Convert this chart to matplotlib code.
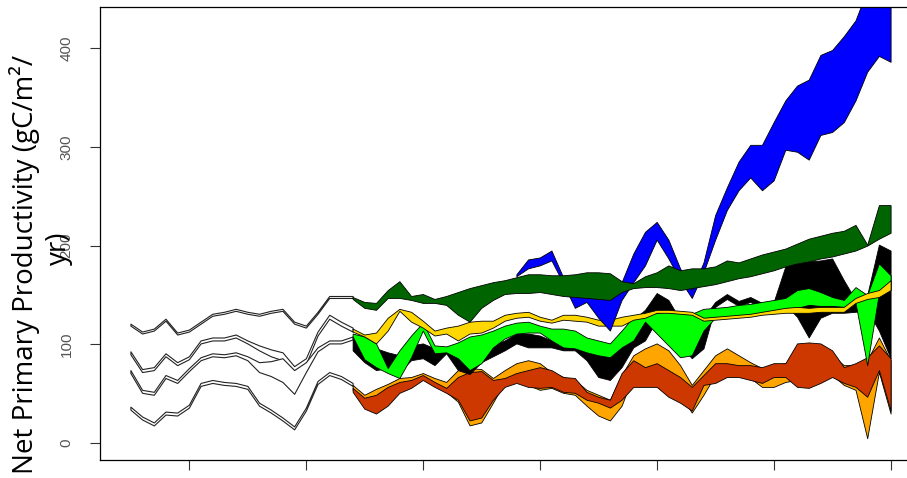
import matplotlib.pyplot as plt
import numpy as np

# x axis: years, historical part then the scenario ribbons
years_hist = np.arange(1675, 1771, 5)
years = np.arange(1770, 2001, 5)
years_blue = years[14:]

# historical ribbons (white, outlined)
w1_hi = [121, 113, 116, 126, 112, 115, 123, 131, 133, 136, 133, 131, 134, 136, 123, 119, 133, 149, 149, 149]
w1_lo = [119, 111, 114, 124, 110, 113, 121, 129, 131, 134, 131, 129, 132, 134, 121, 117, 131, 147, 147, 147]
w2_hi = [93, 75, 77, 91, 82, 88, 104, 107, 107, 110, 104, 99, 95, 92, 78, 86, 113, 130, 123, 117]
w2_lo = [90, 72, 74, 88, 79, 85, 101, 104, 104, 107, 101, 94, 88, 84, 70, 80, 109, 126, 119, 113]
w3_hi = [74, 54, 52, 69, 64, 76, 87, 91, 90, 92, 88, 82, 83, 86, 74, 82, 97, 104, 104, 108]
w3_lo = [71, 51, 49, 66, 61, 73, 84, 88, 87, 89, 84, 72, 68, 62, 50, 72, 93, 101, 101, 105]
w4_hi = [37, 27, 21, 32, 31, 39, 61, 64, 62, 61, 58, 41, 34, 26, 17, 36, 63, 72, 68, 61]
w4_lo = [34, 24, 18, 29, 28, 36, 58, 61, 59, 58, 55, 38, 31, 23, 14, 33, 60, 69, 65, 58]

# scenario ribbons
dg_hi = [148, 143, 142, 155, 164, 149, 151, 146, 149, 153, 157, 160, 163, 165, 168, 171, 171, 170, 170, 171,
         173, 173, 172, 164, 162, 169, 173, 180, 175, 177, 177, 179, 185, 183, 187, 191, 194, 197, 202, 207,
         210, 213, 215, 221, 201, 241, 241]
dg_lo = [146, 137, 135, 147, 147, 145, 142, 142, 140, 130, 123, 137, 145, 151, 152, 152, 153, 151, 149, 148,
         147, 146, 145, 153, 157, 158, 158, 157, 155, 157, 159, 161, 164, 167, 169, 172, 175, 179, 182, 184,
         187, 189, 192, 195, 200, 207, 213]
blue_hi = [171, 186, 188, 195, 168, 160, 160, 160, 160, 163, 192, 214, 224, 206, 177, 155, 183, 231, 259, 285,
           302, 302, 325, 347, 362, 368, 393, 398, 412, 428, 459, 469, 479]
blue_lo = [169, 177, 180, 185, 162, 137, 143, 127, 114, 145, 163, 180, 206, 187, 165, 147, 173, 206, 236, 256,
           269, 256, 266, 297, 295, 287, 312, 315, 325, 347, 376, 392, 386]
gold_hi = [116, 110, 112, 127, 136, 133, 124, 114, 117, 119, 123, 124, 124, 130, 132, 133, 128, 125, 130, 130,
           128, 125, 125, 128, 130, 132, 135, 135, 134, 133, 127, 128, 129, 130, 131, 133, 135, 137, 138, 137,
           138, 138, 138, 147, 152, 155, 165]
gold_lo = [113, 108, 101, 114, 134, 123, 117, 109, 111, 104, 111, 112, 117, 124, 127, 128, 124, 122, 125, 124,
           123, 119, 119, 119, 125, 127, 132, 132, 131, 130, 124, 125, 126, 127, 128, 130, 131, 132, 132, 132,
           133, 133, 133, 142, 146, 148, 155]
lg_hi = [111, 108, 101, 76, 94, 109, 122, 99, 98, 102, 108, 110, 114, 119, 122, 123, 119, 116, 116, 114,
         107, 104, 101, 114, 128, 130, 132, 133, 132, 131, 136, 137, 138, 140, 141, 143, 145, 147, 155, 157,
         153, 148, 145, 158, 150, 182, 170]
lg_lo = [108, 85, 77, 71, 66, 87, 114, 91, 92, 86, 74, 81, 97, 106, 111, 112, 112, 104, 97, 96,
         92, 89, 87, 97, 104, 123, 111, 99, 87, 89, 114, 127, 128, 129, 130, 132, 134, 136, 137, 140,
         139, 139, 138, 142, 79, 152, 155]
blk_hi = [108, 104, 96, 92, 89, 99, 101, 96, 94, 87, 86, 96, 99, 104, 111, 111, 109, 104, 99, 98,
          97, 91, 87, 97, 125, 135, 152, 145, 125, 109, 127, 143, 151, 144, 148, 142, 143, 179, 182, 184,
          185, 187, 165, 145, 150, 201, 195]
blk_lo = [94, 82, 74, 76, 72, 84, 86, 79, 91, 74, 70, 82, 88, 94, 101, 97, 97, 97, 94, 94,
          84, 67, 64, 77, 97, 104, 125, 114, 99, 86, 96, 138, 146, 139, 143, 137, 138, 140, 128, 107,
          127, 132, 132, 133, 135, 114, 86]
rd_hi = [56, 46, 49, 57, 62, 64, 69, 62, 56, 67, 72, 73, 64, 66, 71, 74, 77, 74, 67, 66,
         52, 47, 44, 71, 84, 77, 81, 74, 67, 57, 69, 81, 81, 79, 79, 77, 81, 81, 101, 102,
         101, 94, 77, 81, 87, 99, 86]
rd_lo = [52, 35, 30, 38, 51, 56, 64, 57, 51, 44, 23, 26, 44, 57, 61, 57, 56, 57, 52, 51,
         44, 41, 36, 44, 57, 57, 57, 47, 41, 33, 59, 61, 67, 67, 64, 61, 67, 67, 57, 56,
         61, 67, 61, 57, 47, 74, 33]
or_hi = [59, 49, 55, 60, 66, 67, 71, 66, 62, 74, 76, 75, 66, 74, 81, 84, 81, 72, 67, 64,
         54, 49, 44, 69, 89, 96, 101, 94, 79, 59, 74, 89, 96, 89, 82, 76, 79, 81, 89, 94,
         94, 89, 79, 79, 84, 107, 84]
or_lo = [54, 44, 47, 49, 60, 62, 66, 61, 52, 42, 18, 21, 41, 62, 64, 59, 54, 56, 51, 49,
         38, 28, 23, 38, 69, 69, 74, 64, 49, 31, 49, 69, 74, 72, 66, 57, 57, 62, 64, 64,
         64, 69, 59, 54, 5, 72, 30]

y_ticks = [0, 100, 200, 300, 400]
x_ticks = list(range(1700, 2001, 50))


def ribbon(ax, x, lo, hi, color, lw=0.6, edge="black"):
    ax.fill_between(x, lo, hi, facecolor=color, edgecolor=edge, linewidth=lw)


fig = plt.figure(figsize=(9.07, 4.78), dpi=100)
ax = fig.add_axes([100 / 907, 18 / 478, 821 / 907, 453 / 478])

for lo, hi in [(w1_lo, w1_hi), (w2_lo, w2_hi), (w3_lo, w3_hi), (w4_lo, w4_hi)]:
    ribbon(ax, years_hist, lo, hi, "white", lw=0.8, edge="#222222")

ribbon(ax, years, or_lo, or_hi, "#FFA500")
ribbon(ax, years, rd_lo, rd_hi, "#CD3700")
ribbon(ax, years, blk_lo, blk_hi, "black")
ribbon(ax, years, lg_lo, lg_hi, "#00FF00")
ribbon(ax, years, gold_lo, gold_hi, "#FFD700")
ribbon(ax, years_blue, blue_lo, blue_hi, "#0000FF")
ribbon(ax, years, dg_lo, dg_hi, "#006400")

ax.set_xlim(1662, 2013)
ax.set_ylim(-17, 441.5)
ax.set_xticks(x_ticks)
ax.set_xticklabels([])
ax.set_yticks(y_ticks)
ax.set_yticklabels([str(v) for v in y_ticks], rotation=90, va="center",
                   fontfamily="Liberation Sans")
ax.tick_params(axis="both", length=7, width=0.8, color="#333333")
ax.tick_params(axis="y", pad=12, labelsize=11, labelcolor="#555555")
for s in ax.spines.values():
    s.set_linewidth(0.9)

# y label is wrapped onto two lines in the original, second line overlapping the axis labels
fig.text(25 / 907, 1 - 264 / 478, "Net Primary Productivity (gC/m\u00b2/", rotation=90,
         ha="center", va="center", fontsize=20, family=["Open Sans", "DejaVu Sans"])
fig.text(59 / 907, 1 - 248 / 478, "yr)", rotation=90,
         ha="center", va="center", fontsize=20, family=["Open Sans", "DejaVu Sans"])

fig.savefig("out.png", dpi=100)
